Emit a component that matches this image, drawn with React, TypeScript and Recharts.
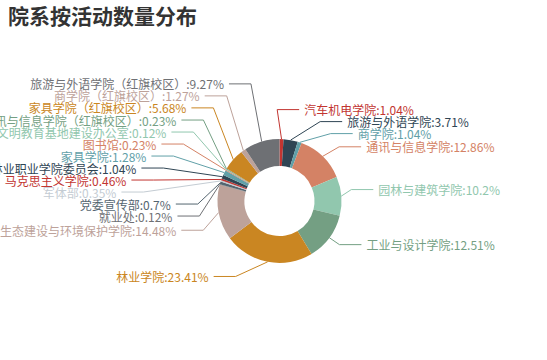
import { PieChart, Pie, Cell } from "recharts";

// slices clockwise from 12 o'clock
const deptNames = [
  "汽车机电学院",
  "旅游与外语学院",
  "商学院",
  "通讯与信息学院",
  "园林与建筑学院",
  "工业与设计学院",
  "林业学院",
  "生态建设与环境保护学院",
  "就业处",
  "党委宣传部",
  "军体部",
  "马克思主义学院",
  "共青团林业职业学院委员会",
  "家具学院",
  "图书馆",
  "生态文明教育基地建设办公室",
  "通讯与信息学院（红旗校区）",
  "家具学院（红旗校区）",
  "商学院（红旗校区）",
  "旅游与外语学院（红旗校区）",
];

const deptPercents = [
  1.04, 3.71, 1.04, 12.86, 10.2, 12.51, 23.41, 14.48, 0.12, 0.7, 0.35, 0.46,
  1.04, 1.28, 0.23, 0.12, 0.23, 5.68, 1.27, 9.27,
];

const palette = [
  "#c23531", "#2f4554", "#61a0a8", "#d48265", "#91c7ae", "#749f83",
  "#ca8622", "#bda29a", "#6e7074", "#546570", "#c4ccd3",
];

const data = deptNames.map((name, i) => ({ name, value: deptPercents[i] }));

const W = 547;
const H = 360;
const CX = 274.5;
const CY = 196;
const R = 62;
const R0 = 35;
const LEN = 20;
const LEN2 = 22;
const LABEL_H = 12;
const FONT = '"Noto Sans CJK SC", "Noto Sans", sans-serif';

type Lbl = { x: number; y: number; dir: number; len: number; len2: number; height: number };

// echarts-style label placement: push labels apart vertically, then slide x along the ring
function adjustSide(list: Lbl[], dir: number) {
  list.sort((a, b) => a.y - b.y);
  const shiftUp = (end: number, delta: number) => {
    for (let j = end; j >= 0; j--) {
      list[j].y -= delta;
      if (j > 0 && list[j].y > list[j - 1].y + list[j - 1].height) break;
    }
  };
  const shiftDown = (start: number, end: number, delta: number) => {
    for (let j = start; j < end; j++) {
      list[j].y += delta;
      if (j > start && j + 1 < end && list[j + 1].y > list[j].y + list[j].height) {
        shiftUp(j, delta / 2);
        return;
      }
    }
    shiftUp(end - 1, delta / 2);
  };
  const changeX = (items: Lbl[], down: boolean) => {
    let last = down ? Number.MAX_VALUE : 0;
    for (const it of items) {
      const dy = Math.abs(it.y - CY);
      const full = R + it.len + it.len2;
      let dx = dy < R + it.len ? Math.sqrt(full * full - dy * dy) : Math.abs(it.x - CX);
      if (down && dx >= last) dx = last - 10;
      if (!down && dx <= last) dx = last + 10;
      it.x = CX + dx * dir;
      last = dx;
    }
  };
  let lastY = 0;
  for (let i = 0; i < list.length; i++) {
    const delta = list[i].y - lastY;
    if (delta < 0) shiftDown(i, list.length, -delta);
    lastY = list[i].y + list[i].height;
  }
  if (H - lastY < 0) shiftUp(list.length - 1, lastY - H);
  changeX(list.filter((d) => d.y < CY), false);
  changeX(list.filter((d) => d.y >= CY), true);
}

function buildLabels(): Lbl[] {
  const total = deptPercents.reduce((s, v) => s + v, 0);
  let acc = 0;
  const items = deptPercents.map((v) => {
    const a = ((acc + v / 2) / total) * Math.PI * 2;
    acc += v;
    const dx = Math.sin(a);
    const dy = -Math.cos(a);
    const dir = dx < 0 ? -1 : 1;
    const x2 = CX + (R + LEN) * dx;
    const y2 = CY + (R + LEN) * dy;
    return { x: x2 + dir * (LEN2 + 5), y: y2, dir, len: LEN, len2: LEN2, height: LABEL_H };
  });
  adjustSide(items.filter((d) => d.x >= CX), 1);
  adjustSide(items.filter((d) => d.x < CX), -1);
  return items;
}

const labels = buildLabels();

const renderLabel = (props: any) => {
  const { cx, cy, midAngle, outerRadius, index } = props;
  const lb = labels[index];
  const color = palette[index % palette.length];
  const rad = (-midAngle * Math.PI) / 180;
  const x1 = cx + outerRadius * Math.cos(rad);
  const y1 = cy + outerRadius * Math.sin(rad);
  const xEnd = lb.x - lb.dir * 5;
  const xMid = xEnd - lb.dir * lb.len2;
  return (
    <g key={`lbl-${index}`}>
      <polyline
        points={`${x1},${y1} ${xMid},${lb.y} ${xEnd},${lb.y}`}
        fill="none"
        stroke={color}
        strokeWidth={1}
      />
      <text
        x={lb.x}
        y={lb.y}
        fill={color}
        fontSize={12}
        fontFamily={FONT}
        textAnchor={lb.dir > 0 ? "start" : "end"}
        dominantBaseline="central"
      >
        {`${data[index].name}:${data[index].value}%`}
      </text>
    </g>
  );
};

export default function App() {
  return (
    <div style={{ position: "fixed", left: 0, top: 0, width: W, height: H, background: "#fff" }}>
      <div
        style={{
          position: "absolute",
          left: 8,
          top: 1,
          fontFamily: FONT,
          fontSize: 21,
          fontWeight: "bold",
          color: "#333",
          lineHeight: "28px",
          zIndex: 2,
        }}
      >
        院系按活动数量分布
      </div>
      <PieChart width={W} height={H}>
        <Pie
          data={data}
          dataKey="value"
          nameKey="name"
          cx={CX}
          cy={CY}
          innerRadius={R0}
          outerRadius={R}
          startAngle={90}
          endAngle={-270}
          stroke="none"
          labelLine={false}
          label={renderLabel}
          isAnimationActive={false}
        >
          {data.map((d, i) => (
            <Cell key={d.name} fill={palette[i % palette.length]} />
          ))}
        </Pie>
      </PieChart>
    </div>
  );
}
